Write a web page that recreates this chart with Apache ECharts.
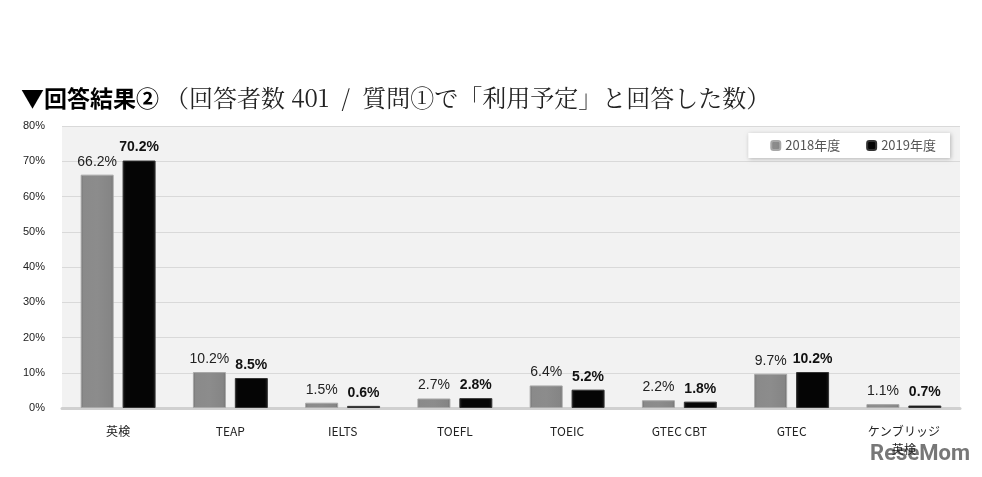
<!DOCTYPE html>
<html><head><meta charset="utf-8">
<script src="https://cdn.jsdelivr.net/npm/echarts@6/dist/echarts.min.js"></script>
<style>html,body{margin:0;padding:0;background:#fff}#c{width:982px;height:477px}</style>
</head><body><div id="c"></div>
<script>
const categories = ['英検','TEAP','IELTS','TOEFL','TOEIC','GTEC CBT','GTEC','ケンブリッジ英検'];
const axisLabels = ['英検','TEAP','IELTS','TOEFL','TOEIC','GTEC CBT','GTEC','ケンブリッジ\n英検'];
const s2018 = [66.2,10.2,1.5,2.7,6.4,2.2,9.7,1.1];
const s2019 = [70.2,8.5,0.6,2.8,5.2,1.8,10.2,0.7];
const seriesNames = ['2018年度','2019年度'];

const chart = echarts.init(document.getElementById('c'));
const grayGrad = new echarts.graphic.LinearGradient(0,0,1,0,[
  {offset:0,color:'#6e6e6e'},{offset:0.08,color:'#8a8a8a'},{offset:0.5,color:'#8c8c8c'},{offset:0.92,color:'#858585'},{offset:1,color:'#6a6a6a'}]);
const blackGrad = new echarts.graphic.LinearGradient(0,0,1,0,[
  {offset:0,color:'#1a1a1a'},{offset:0.1,color:'#050505'},{offset:0.9,color:'#050505'},{offset:1,color:'#1a1a1a'}]);
chart.setOption({
  animation:false,
  title:{
    text:'{b|▼回答結果②}{r|（回答者数 401  /  質問①で「利用予定」と回答した数）}',
    left:16, top:81,
    textStyle:{fontWeight:'normal',rich:{
      b:{fontSize:23,fontWeight:'bold',color:'#000',fontFamily:'Noto Sans CJK JP'},
      r:{fontSize:24,fontWeight:'normal',color:'#222',fontFamily:'Noto Serif CJK JP, serif',padding:[0,0,0,6]}
    }}
  },
  legend:{
    data:seriesNames, right:32, top:133,
    backgroundColor:'#fff', padding:[6,14,6,22],
    shadowColor:'rgba(0,0,0,0.25)', shadowBlur:4, shadowOffsetX:1, shadowOffsetY:1,
    itemWidth:9, itemHeight:9, itemGap:26,
    textStyle:{fontSize:13,color:'#555',fontFamily:'Noto Sans CJK JP'}
  },
  grid:{left:62,right:22,top:126,bottom:69,backgroundColor:'#f2f2f2',show:true,borderWidth:0},
  xAxis:{
    type:'category', data:axisLabels,
    axisLine:{lineStyle:{color:'#d0d0d0',width:3}},
    axisTick:{show:false},
    axisLabel:{fontSize:12,color:'#222',margin:14,lineHeight:18,fontFamily:'Noto Sans CJK JP'}
  },
  yAxis:{
    type:'value', min:0, max:80, interval:10,
    axisLabel:{formatter:'{value}%',fontSize:11,color:'#222',margin:17},
    splitLine:{lineStyle:{color:'#d9d9d9'}},
    axisLine:{show:false}, axisTick:{show:false}
  },
  series:[
    {name:seriesNames[0],type:'bar',data:s2018,barWidth:33,barGap:'27%',
     itemStyle:{color:grayGrad,borderColor:'#a8a8a8',borderWidth:1},
     label:{show:true,position:'top',formatter:'{c}%',fontSize:14,color:'#222',distance:6}},
    {name:seriesNames[1],type:'bar',data:s2019,barWidth:33,
     itemStyle:{color:blackGrad,borderColor:'#333',borderWidth:1},
     label:{show:true,position:'top',formatter:'{c}%',fontSize:14,color:'#111',fontWeight:'bold',distance:6}}
  ],
  graphic:[{type:'text',right:12,bottom:12,style:{text:'ReseMom',fontSize:22,fontWeight:'bold',fill:'#777',fontFamily:'Roboto'}}]
});
</script></body></html>
